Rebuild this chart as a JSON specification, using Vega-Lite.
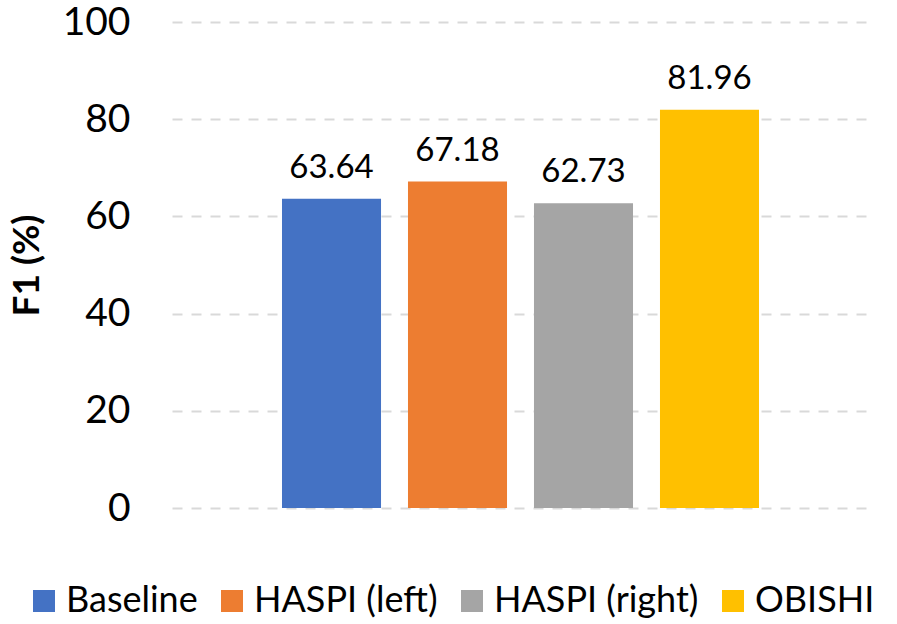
{
  "$schema": "https://vega.github.io/schema/vega-lite/v6.json",
  "width": 697,
  "height": 486,
  "autosize": {"type": "none"},
  "padding": {"left": 172, "top": 22, "right": 28, "bottom": 116},
  "background": "white",
  "config": {
    "view": {"stroke": null},
    "font": "Lato",
    "text": {"font": "Lato"}
  },
  "data": {
    "values": [
      {"method": "Baseline", "f1": 63.64},
      {"method": "HASPI (left)", "f1": 67.18},
      {"method": "HASPI (right)", "f1": 62.73},
      {"method": "OBISHI", "f1": 81.96}
    ]
  },
  "encoding": {
    "x": {
      "field": "method",
      "type": "nominal",
      "sort": null,
      "axis": null,
      "scale": {"paddingInner": 0.214, "paddingOuter": 0.873}
    },
    "y": {
      "field": "f1",
      "type": "quantitative",
      "scale": {"domain": [0, 100], "nice": false},
      "axis": {
        "title": "F1 (%)",
        "titleFontSize": 37,
        "titleFontWeight": "bold",
        "titleColor": "#000000",
        "titlePadding": 16,
        "values": [0, 20, 40, 60, 80, 100],
        "labelFontSize": 39,
        "labelColor": "#000000",
        "labelPadding": 42,
        "domain": false,
        "ticks": false,
        "grid": true,
        "gridColor": "#d9d9d9",
        "gridWidth": 2,
        "gridDash": [10, 9]
      }
    }
  },
  "layer": [
    {
      "mark": {"type": "bar"},
      "encoding": {
        "color": {
          "field": "method",
          "type": "nominal",
          "sort": null,
          "scale": {
            "domain": ["Baseline", "HASPI (left)", "HASPI (right)", "OBISHI"],
            "range": ["#4472C4", "#ED7D31", "#A5A5A5", "#FFC000"]
          },
          "legend": {
            "title": null,
            "orient": "none",
            "direction": "horizontal",
            "legendX": -146,
            "legendY": 561,
            "symbolType": "square",
            "symbolSize": 484,
            "symbolStrokeWidth": 0,
            "labelFontSize": 36,
            "labelColor": "#000000",
            "labelOffset": 4,
            "columnPadding": 16,
            "labelLimit": 400
          }
        }
      }
    },
    {
      "mark": {"type": "text", "baseline": "alphabetic", "dy": -21, "fontSize": 33, "color": "#000000"},
      "encoding": {
        "text": {"field": "f1", "type": "quantitative", "format": ".2f"}
      }
    }
  ]
}
